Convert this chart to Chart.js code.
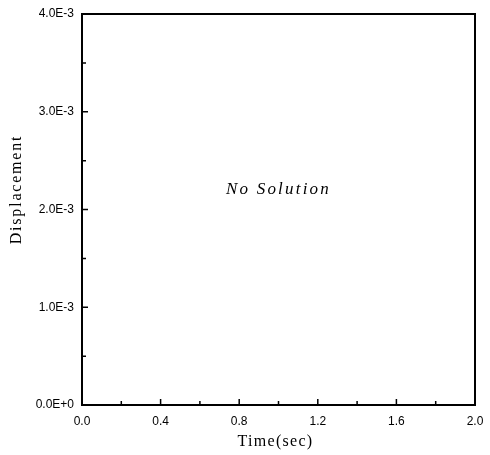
<!DOCTYPE html>
<html><head><meta charset="utf-8">
<script src="https://cdn.jsdelivr.net/npm/chart.js@4"></script>
<style>html,body{margin:0;padding:0;background:#fff}#wrap{width:490px;height:455px}</style>
</head><body><div id="wrap"><canvas id="c" width="490" height="455"></canvas></div>
<script>
const xRange = [0, 2.0];
const yRange = [0, 0.004];
const xTickLabels = ['0.0','0.4','0.8','1.2','1.6','2.0'];
const yTickLabels = ['0.0E+0','1.0E-3','2.0E-3','3.0E-3','4.0E-3'];
const xTitle = 'Time(sec)';
const yTitle = 'Displacement';
const noteText = 'No Solution';
const notePos = [1.0, 0.0022];
const seriesX = [];
const seriesY = [];

const frame = {
  id: 'frame',
  afterDraw(chart) {
    const {ctx, chartArea: a, scales: {x, y}} = chart;
    ctx.save();
    ctx.strokeStyle = '#000';
    ctx.lineWidth = 2;
    ctx.strokeRect(a.left, a.top, a.right - a.left, a.bottom - a.top);
    ctx.lineWidth = 1.5;
    ctx.beginPath();
    x.ticks.forEach((t, i) => {
      const px = x.getPixelForValue(t.value);
      const len = (i % 2 === 0) ? 6 : 4;
      ctx.moveTo(px, a.bottom); ctx.lineTo(px, a.bottom - len);
    });
    y.ticks.forEach((t, i) => {
      const py = y.getPixelForValue(t.value);
      const len = (i % 2 === 0) ? 6 : 4;
      ctx.moveTo(a.left, py); ctx.lineTo(a.left + len, py);
    });
    ctx.stroke();
    // titles
    ctx.fillStyle = '#000';
    ctx.font = '16px "Liberation Serif"';
    ctx.letterSpacing = '1.3px';
    ctx.textAlign = 'center';
    ctx.textBaseline = 'middle';
    ctx.fillText(xTitle, (a.left + a.right) / 2 - 3, 442);
    ctx.letterSpacing = '1.8px';
    ctx.save();
    ctx.translate(17, (a.top + a.bottom) / 2 - 20);
    ctx.rotate(-Math.PI / 2);
    ctx.fillText(yTitle, 0, 0);
    ctx.restore();
    ctx.font = 'italic 17px "Liberation Serif"';
    ctx.letterSpacing = '2.2px';
    ctx.fillText(noteText, x.getPixelForValue(notePos[0]), y.getPixelForValue(notePos[1]));
    ctx.restore();
  }
};

new Chart(document.getElementById('c'), {
  type: 'scatter',
  data: { datasets: [{ data: seriesX.map((v, i) => ({x: v, y: seriesY[i]})), showLine: true, borderColor: '#000' }] },
  options: {
    responsive: false,
    animation: false,
    layout: { padding: { left: 0, right: 15, top: 14, bottom: 0 } },
    plugins: { legend: { display: false }, tooltip: { enabled: false } },
    scales: {
      x: {
        type: 'linear', min: xRange[0], max: xRange[1],
        grid: { display: false, drawTicks: false },
        border: { display: false },
        ticks: {
          stepSize: 0.2, maxRotation: 0, autoSkip: false, padding: 9,
          color: '#000', font: { family: '"Liberation Sans"', size: 12 },
          callback: (v, i) => (i % 2 === 0 ? xTickLabels[i / 2] : '')
        },
        afterFit: s => { s.height = 50; s.paddingLeft = 0; s.paddingRight = 0; }
      },
      y: {
        type: 'linear', min: yRange[0], max: yRange[1],
        grid: { display: false, drawTicks: false },
        border: { display: false },
        ticks: {
          stepSize: 0.0005, autoSkip: false, padding: 8,
          color: '#000', font: { family: '"Liberation Sans"', size: 12 },
          callback: (v, i) => (i % 2 === 0 ? yTickLabels[i / 2] : '')
        },
        afterFit: s => { s.width = 82; s.paddingTop = 0; s.paddingBottom = 0; }
      }
    }
  },
  plugins: [frame]
});
</script></body></html>
